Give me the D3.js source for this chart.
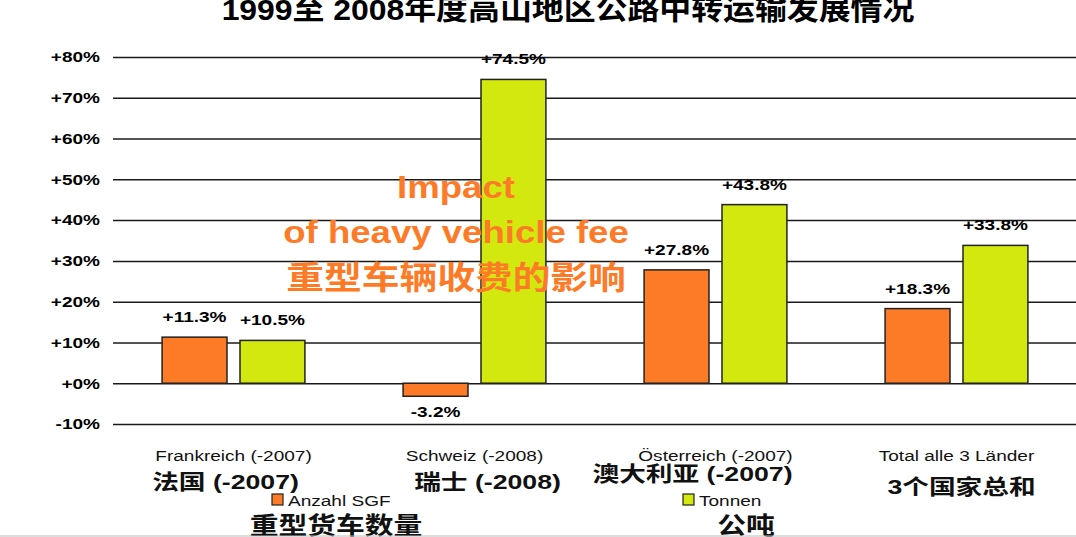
<!DOCTYPE html>
<html>
<head>
<meta charset="utf-8">
<script src="https://cdn.jsdelivr.net/npm/d3@7"></script>
<style>
  body { margin: 0; background: #fff; }
  svg { display: block; font-family: "Liberation Sans", Arial, "Noto Sans CJK SC", sans-serif; }
</style>
</head>
<body>
<svg id="chart"></svg>
<script>
"use strict";

var Width = 1076,
    Height = 537,
    Stretch = 1.27; // the slide was widened, so all text is wider than tall

var categories = ["Frankreich (-2007)", "Schweiz (-2008)", "Österreich (-2007)", "Total alle 3 Länder"],
    categoriesZh = ["法国 (-2007)", "瑞士 (-2008)", "澳大利亚 (-2007)", "3个国家总和"],
    seriesKeys = ["sgf", "tonnen"],
    seriesNames = ["Anzahl SGF", "Tonnen"],
    seriesNamesZh = ["重型货车数量", "公吨"],
    sgfValues = [11.3, -3.2, 27.8, 18.3],
    tonnenValues = [10.5, 74.5, 43.8, 33.8],
    tickValues = [-10, 0, 10, 20, 30, 40, 50, 60, 70, 80],
    titleText = "1999至 2008年度高山地区公路中转运输发展情况",
    noteLines = ["Impact", "of heavy vehicle fee", "重型车辆收费的影响"];

var colors = { sgf: "#FD7B27", tonnen: "#D2E80F" };
// small nudges of the chinese category labels, as on the slide
var zhNudge = [[-8, 0], [13, 0], [-23, -8], [5, 5]];

var data = categories.map(function (c, i) {
    return { cat: c, zh: categoriesZh[i], sgf: sgfValues[i], tonnen: tonnenValues[i] };
});

// put a text at (x,y) and widen it
function place(sel, fx, fy, sx) {
    sel.attr("x", 0).attr("y", 0)
        .attr("transform", function (d, i) {
            var px = typeof fx === "function" ? fx(d, i) : fx,
                py = typeof fy === "function" ? fy(d, i) : fy;
            return "translate(" + px + "," + py + ") scale(" + (sx || Stretch) + ",1)";
        });
    return sel;
}

var svg = d3.select("#chart")
    .attr("width", Width)
    .attr("height", Height);

var x = d3.scaleBand().domain(categories).range([113, 1077]);
var x1 = d3.scaleBand().domain(seriesKeys).range([0, x.bandwidth()])
    .paddingInner(0.167).paddingOuter(0.63);
var y = d3.scaleLinear().domain([-10, 80]).range([424, 57]);

// gridlines + tick labels
var yAxis = svg.append("g")
    .attr("transform", "translate(113,0)")
    .call(d3.axisLeft(y)
        .tickValues(tickValues)
        .tickSize(-(Width - 113))
        .tickPadding(13)
        .tickFormat(function (d) { return (d < 0 ? "" : "+") + d + "%"; }));
yAxis.select(".domain").remove();
yAxis.selectAll("line").attr("stroke", "#1a1a1a").attr("stroke-width", 1.5);
yAxis.selectAll("text")
    .attr("x", -13 / Stretch)
    .attr("transform", "scale(" + Stretch + ",1)")
    .attr("font-size", 15)
    .attr("font-weight", "bold")
    .attr("font-family", "Liberation Sans, Arial, sans-serif")
    .attr("fill", "#000");

// bars
var groups = svg.selectAll(".grp")
    .data(data)
    .enter().append("g")
    .attr("class", "grp")
    .attr("transform", function (d) { return "translate(" + x(d.cat) + ",0)"; });

groups.selectAll("rect")
    .data(function (d) { return seriesKeys.map(function (k) { return { key: k, value: d[k] }; }); })
    .enter().append("rect")
    .attr("x", function (d) { return x1(d.key); })
    .attr("width", x1.bandwidth())
    .attr("y", function (d) { return y(Math.max(0, d.value)); })
    .attr("height", function (d) { return Math.abs(y(d.value) - y(0)); })
    .attr("fill", function (d) { return colors[d.key]; })
    .attr("stroke", "#222")
    .attr("stroke-width", 1.5);

var vals = groups.selectAll(".val")
    .data(function (d) { return seriesKeys.map(function (k) { return { key: k, value: d[k] }; }); })
    .enter().append("text")
    .attr("class", "val")
    .attr("text-anchor", "middle")
    .attr("font-size", 15)
    .attr("font-weight", "bold")
    .text(function (d) { return (d.value >= 0 ? "+" : "") + d.value.toFixed(1) + "%"; });
place(vals,
    function (d) { return x1(d.key) + x1.bandwidth() / 2; },
    function (d) { return d.value >= 0 ? y(d.value) - 15 : y(d.value) + 21; });

// category labels
place(groups.append("text")
    .attr("text-anchor", "middle")
    .attr("font-size", 15)
    .attr("fill", "#111")
    .text(function (d) { return d.cat; }), x.bandwidth() / 2, 461);

place(groups.append("text")
    .attr("text-anchor", "middle")
    .attr("font-size", 21)
    .attr("font-weight", "bold")
    .attr("fill", "#111")
    .text(function (d) { return d.zh; }),
    function (d, i) { return x.bandwidth() / 2 + zhNudge[i][0]; },
    function (d, i) { return 489 + zhNudge[i][1]; });

// legend
var legendX = [272, 683];
var legend = svg.selectAll(".leg")
    .data(seriesKeys)
    .enter().append("g")
    .attr("class", "leg")
    .attr("transform", function (d, i) { return "translate(" + legendX[i] + ",0)"; });
legend.append("rect")
    .attr("y", 494).attr("width", 11).attr("height", 11)
    .attr("fill", function (d) { return colors[d]; })
    .attr("stroke", "#222").attr("stroke-width", 1.2);
place(legend.append("text")
    .attr("font-size", 15).attr("fill", "#111")
    .text(function (d, i) { return seriesNames[i]; }), 16, 506);
place(legend.append("text")
    .attr("text-anchor", "middle")
    .attr("font-size", 24).attr("font-weight", "bold").attr("fill", "#111")
    .text(function (d, i) { return seriesNamesZh[i]; }),
    function (d, i) { return i === 0 ? 64 : 63; }, 534, 1.2);

// orange note over the chart
var note = svg.append("g").attr("fill", colors.sgf).attr("font-weight", "bold").attr("text-anchor", "middle");
place(note.selectAll("text")
    .data(noteLines)
    .enter().append("text")
    .attr("font-size", function (d, i) { return i === 2 ? 32 : 31; })
    .text(function (d) { return d; }),
    456, function (d, i) { return [198, 243, 289][i]; }, 1.18);

// title (clipped at the top of the slide)
place(svg.append("text")
    .attr("text-anchor", "middle")
    .attr("font-size", 29).attr("font-weight", "bold")
    .text(titleText), 568, 20, 1.1);

// tiny cut-off text at the top left
svg.append("clipPath").attr("id", "cutoff")
    .append("rect").attr("x", 0).attr("y", 0).attr("width", 24).attr("height", 30);
place(svg.append("text")
    .attr("clip-path", "url(#cutoff)")
    .attr("font-size", 14).attr("font-weight", "bold")
    .text("1999"), 13, 21);

// slide border at the bottom
svg.append("line")
    .attr("x1", 0).attr("x2", Width).attr("y1", 536).attr("y2", 536)
    .attr("stroke", "#bbb").attr("stroke-width", 1);
</script>
</body>
</html>
